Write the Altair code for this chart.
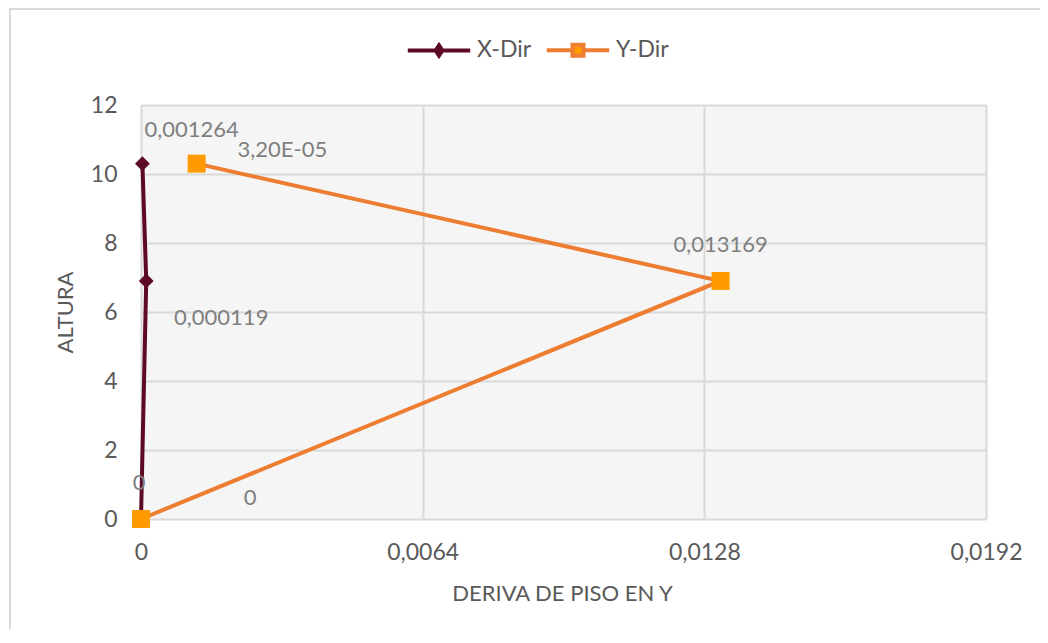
import altair as alt
import pandas as pd

# ---- data ----
series_names = ["X-Dir", "Y-Dir"]
altura = [0, 6.9, 10.3]
x_dir = [0, 0.000119, 0.000032]
y_dir = [0, 0.013169, 0.001264]
x_dir_labels = ["0", "0,000119", "3,20E-05"]
y_dir_labels = ["0", "0,013169", "0,001264"]
x_ticks = [0, 0.0064, 0.0128, 0.0192]
y_ticks = [0, 2, 4, 6, 8, 10, 12]

# ---- styles ----
MAROON = "#5e0a24"
ORANGE_LINE = "#ed7d31"
ORANGE_FILL = "#ff9b00"
GRID = "#d9d9d9"
TXT = "#595959"
LBL = "#7f7f7f"
FONT = "Lato"

# label offsets (dx, dy) in pixels, per series/point index
label_offsets = {
    ("X-Dir", 0): (-2, -36),
    ("X-Dir", 1): (75, 37),
    ("X-Dir", 2): (140, -14),
    ("Y-Dir", 0): (109, -21),
    ("Y-Dir", 1): (0, -36),
    ("Y-Dir", 2): (-5, -34),
}

rows = []
for s, xs, labs in [("X-Dir", x_dir, x_dir_labels), ("Y-Dir", y_dir, y_dir_labels)]:
    for i, (h, v, l) in enumerate(zip(altura, xs, labs)):
        rows.append(dict(series=s, i=i, deriva=v, altura=h, label=l))
df = pd.DataFrame(rows)

xenc = alt.X(
    "deriva:Q",
    scale=alt.Scale(domain=[x_ticks[0], x_ticks[-1]], nice=False, zero=False),
    axis=alt.Axis(
        values=x_ticks,
        labelExpr="replace(toString(datum.value), '.', ',')",
        labelFlush=False,
        title="DERIVA DE PISO EN Y",
        titleX=421,
        titleY=74,
        titleBaseline="middle",
        labelPadding=22,
    ),
)
yenc = alt.Y(
    "altura:Q",
    scale=alt.Scale(domain=[y_ticks[0], y_ticks[-1]], nice=False, zero=False),
    axis=alt.Axis(
        values=y_ticks,
        title="ALTURA",
        titleX=-76,
        titleY=207,
        titleBaseline="middle",
        labelPadding=24,
    ),
)

base = alt.Chart(df)

border = alt.Chart(pd.DataFrame({"a": [0]})).mark_rect(
    fill=None, stroke=GRID, strokeWidth=2
).encode(
    x=alt.value(-131), x2=alt.value(2000), y=alt.value(-96), y2=alt.value(2000)
)

line_x = base.transform_filter(alt.datum.series == "X-Dir").mark_line(
    color=MAROON, strokeWidth=4
).encode(x=xenc, y=yenc, order="i:Q")
pts_x = base.transform_filter(alt.datum.series == "X-Dir").mark_point(
    shape="diamond", filled=True, color=MAROON, opacity=1, size=220
).encode(x=xenc, y=yenc)
line_y = base.transform_filter(alt.datum.series == "Y-Dir").mark_line(
    color=ORANGE_LINE, strokeWidth=4
).encode(x=xenc, y=yenc, order="i:Q")
pts_y = base.transform_filter(alt.datum.series == "Y-Dir").mark_square(
    color=ORANGE_FILL, opacity=1, size=324
).encode(x=xenc, y=yenc)

text_layers = []
for (s, i), (dx, dy) in label_offsets.items():
    t = base.transform_filter(
        (alt.datum.series == s) & (alt.datum.i == i)
    ).mark_text(
        dx=dx, dy=dy, font=FONT, fontSize=22, color=LBL, align="center", baseline="middle"
    ).encode(x=xenc, y=yenc, text="label:N")
    text_layers.append(t)

path_x = "M-2.6,0H2.6M0,-0.42L0.28,0L0,0.42L-0.28,0Z"
path_y = "M-2.6,0H-0.46M0.46,0H2.6M-0.46,-0.46H0.46V0.46H-0.46Z"

leg = alt.Legend(
    title=None,
    orient="none",
    legendX=284,
    legendY=-69,
    direction="horizontal",
    symbolSize=576,
    symbolStrokeWidth=4,
    symbolOpacity=1,
    labelFont=FONT,
    labelFontSize=23,
    labelColor=TXT,
    labelOffset=24,
    columnPadding=6,
    padding=0,
)

legend_layer = base.mark_point(filled=True, opacity=0, size=576).encode(
    x=xenc,
    y=yenc,
    stroke=alt.Stroke("series:N", scale=alt.Scale(domain=series_names, range=[MAROON, ORANGE_LINE]), legend=leg),
    fill=alt.Fill("series:N", scale=alt.Scale(domain=series_names, range=[MAROON, ORANGE_FILL]), legend=leg),
    shape=alt.Shape("series:N", scale=alt.Scale(domain=series_names, range=[path_x, path_y]), legend=leg),
)

chart = alt.layer(
    border, legend_layer, line_x, pts_x, line_y, pts_y, *text_layers
).properties(
    width=845,
    height=414,
    autosize=alt.AutoSizeParams(type="none"),
    padding={"left": 133, "top": 97, "right": 54, "bottom": 110},
).configure_view(
    fill="#f5f5f5", stroke=None
).configure_axis(
    grid=True,
    gridColor=GRID,
    gridWidth=2,
    domain=False,
    ticks=False,
    tickSize=0,
    labelFont=FONT,
    labelFontSize=23,
    labelColor=TXT,
    titleFont=FONT,
    titleFontSize=22,
    titleFontWeight="normal",
    titleColor=TXT,
)

chart.save("out.html", embed_options={"renderer": "svg", "actions": False})
